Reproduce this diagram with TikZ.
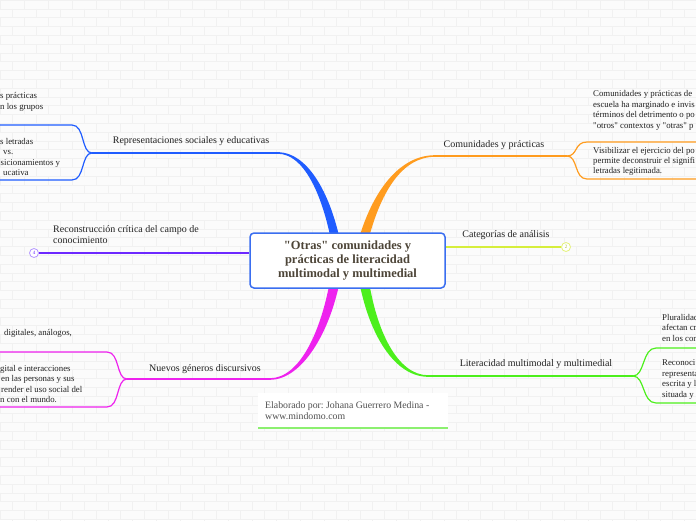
\documentclass[tikz,border=0pt]{standalone}
\usepackage{fontspec}
\setmainfont{Liberation Serif}[Ligatures=TeXOff]
\definecolor{bgc}{HTML}{FBFBFB}
\definecolor{brickc}{HTML}{F1F1F1}
\definecolor{blueb}{HTML}{1F5CFF}
\definecolor{orangeb}{HTML}{FF9C1F}
\definecolor{magb}{HTML}{EE22EE}
\definecolor{greenb}{HTML}{4CEF1C}
\definecolor{purp}{HTML}{6D28FF}
\definecolor{purpl}{HTML}{B496FF}
\definecolor{yel}{HTML}{D6EE3C}
\definecolor{yell}{HTML}{E4F27A}
\definecolor{boxblue}{HTML}{3A6EF0}
\definecolor{txtc}{HTML}{222222}
\definecolor{titlec}{HTML}{4D4538}
\definecolor{footc}{HTML}{505050}
\definecolor{footgreen}{HTML}{8CF070}
\begin{document}
\frenchspacing
\begin{tikzpicture}[x=1pt,y=-1pt]
\tikzset{
  subtxt/.style={anchor=base west, inner sep=0pt, font=\fontsize{8.8}{10.5}\selectfont, text=txtc},
  lbl/.style={anchor=base, inner sep=0pt, font=\fontsize{10}{12}\selectfont, text=txtc},
  hline/.style={line width=1.5pt},
  forkline/.style={line width=1.2pt},
  numcirc/.style={circle, fill=white, minimum size=9pt, inner sep=0pt, line width=0.8pt, font=\fontsize{5}{5}\selectfont},
}
\clip (0,0) rectangle (696,520);
\fill[bgc] (0,0) rectangle (696,520);
% brick background
\foreach \r in {0,...,59} {
  \draw[brickc, line width=0.6pt] (0,\r*8.8) -- (696,\r*8.8);
}
\foreach \r in {0,...,59} {
  \pgfmathsetmacro{\off}{mod(\r,2)*12}
  \foreach \c in {0,...,29} {
    \draw[brickc, line width=0.6pt] (\c*24+\off,\r*8.8) -- ++(0,8.8);
  }
}

% coordinates
\coordinate (bF) at (92,153);
\coordinate (bE) at (280,153);
\coordinate (oF) at (567,156);
\coordinate (oE) at (433,156);
\coordinate (mF) at (127,379);
\coordinate (mE) at (270,379);
\coordinate (gF) at (633,376);
\coordinate (gE) at (426,376);
\coordinate (bT) at (-5,125);
\coordinate (bB) at (-5,180);
\coordinate (oT) at (700,142);
\coordinate (oB) at (700,179);
\coordinate (mT) at (-5,352);
\coordinate (mB) at (-5,407);
\coordinate (gT) at (700,348);
\coordinate (gB) at (700,403);

% tapered main branches
\fill[blueb] (278,152.2) .. controls (306,152.2) and (330,190) .. (341,245) -- (332,245) .. controls (322,192) and (303,153.8) .. (278,153.8) -- cycle;
\fill[orangeb] (435,155.2) .. controls (400,155.2) and (372,190) .. (357,245) -- (367,245) .. controls (380,192) and (402,156.8) .. (435,156.8) -- cycle;
\fill[magb] (270,378.2) .. controls (300,378.2) and (322,330) .. (331,275) -- (341,275) .. controls (331,332) and (302,379.8) .. (270,379.8) -- cycle;
\fill[greenb] (358,275) .. controls (368,335) and (395,376.8) .. (428,376.8) -- (428,375.2) .. controls (398,375.2) and (376,332) .. (368,275) -- cycle;

% horizontal parts
\draw[blueb, hline] (bF) -- (bE);
\draw[orangeb, hline] (oE) -- (oF);
\draw[magb, hline] (mF) -- (mE);
\draw[greenb, hline] (gE) -- (gF);

% forks
\draw[blueb, forkline] (bF) .. controls (81,153) and (85,125) .. (72,125) -- (bT);
\draw[blueb, forkline] (bF) .. controls (81,153) and (85,180) .. (72,180) -- (bB);
\draw[orangeb, forkline] (oF) .. controls (578,156) and (574,142) .. (587,142) -- (oT);
\draw[orangeb, forkline] (oF) .. controls (578,156) and (574,179) .. (587,179) -- (oB);
\draw[magb, forkline] (mF) .. controls (116,379) and (120,352) .. (107,352) -- (mT);
\draw[magb, forkline] (mF) .. controls (116,379) and (120,407) .. (107,407) -- (mB);
\draw[greenb, forkline] (gF) .. controls (645,376) and (642,348) .. (656,348) -- (gT);
\draw[greenb, forkline] (gF) .. controls (645,376) and (642,403) .. (656,403) -- (gB);

% central node
\node[draw=boxblue, line width=1.5pt, rounded corners=4pt, fill=white,
      minimum width=195pt, minimum height=55pt, inner sep=0pt,
      align=center, text=titlec, font=\fontsize{12.5}{14.2}\selectfont\bfseries] (ctr) at (347.5,260.5)
  {"Otras" comunidades y\\prácticas de literacidad\\ multimodal y multimedial};

% numbered leaves
\node[numcirc, draw=purpl, text=purp] (c4) at (34,253) {4};
\node[numcirc, draw=yell, text=yel!80!black] (c2) at (566,247) {2};
\draw[purp, line width=1.3pt] (c4.east) -- (c4.east -| ctr.west);
\draw[yel, line width=1.3pt] (ctr.east |- c2.west) -- (c2.west);

% main labels
\node[lbl] (lrep) at (191,143.7) {Representaciones sociales y educativas};
\node[lbl] (lcom) at (494,147.7) {Comunidades y prácticas};
\node[lbl] (lcat) at (506,237.7) {Categorías de análisis};
\node[lbl] (llit) at (536,366.7) {Literacidad multimodal y multimedial};
\node[lbl] (lnue) at (205,371.7) {Nuevos géneros discursivos};
\node[lbl, anchor=base west] (lrec1) at (53,232.5) {Reconstrucción crítica del campo de};
\node[lbl, anchor=base west] (lrec2) at (53,243.5) {conocimiento};

% blue children (cut at left edge)
\node[subtxt] (b11) at (0,98.5) {s prácticas};
\node[subtxt] (b12) at (0,109.5) {n los grupos};
\node[subtxt] (b21) at (0,144.2) {s letradas};
\node[subtxt] (b22) at (3,154.6) {vs.};
\node[subtxt] (b23) at (0.5,165) {sicionamientos y};
\node[subtxt] (b24) at (3,175.4) {ucativa};

% orange children (cut at right edge)
\node[subtxt] (o11) at (593,96.5) {Comunidades y prácticas de};
\node[subtxt] (o12) at (593,107) {escuela ha marginado e invis};
\node[subtxt] (o13) at (593,117.5) {términos del detrimento o po};
\node[subtxt] (o14) at (593,128) {"otros" contextos y "otras" p};
\node[subtxt] (o21) at (593,153.2) {Visibilizar el ejercicio del po};
\node[subtxt] (o22) at (593,163) {permite deconstruir el signifi};
\node[subtxt] (o23) at (593,173) {letradas legitimada.};

% magenta children
\node[subtxt] (m11) at (4,335.5) {digitales, análogos,};
\node[subtxt] (m21) at (0,371) {gital e interacciones};
\node[subtxt] (m22) at (1,381.5) {en las personas y sus};
\node[subtxt] (m23) at (1,392) {render el uso social del};
\node[subtxt] (m24) at (0,402.5) {n con el mundo.};

% green children
\node[subtxt] (g11) at (662,320) {Pluralidad};
\node[subtxt] (g12) at (662,330.5) {afectan cr};
\node[subtxt] (g13) at (662,341) {en los con};
\node[subtxt] (g21) at (662,365.5) {Reconoci};
\node[subtxt] (g22) at (662,376) {representa};
\node[subtxt] (g23) at (662,386.5) {escrita y l};
\node[subtxt] (g24) at (662,397) {situada y};

% footer
\node[fill=white, minimum width=190pt, minimum height=35pt, inner sep=0pt, anchor=north west] (foot) at (258,393) {};
\draw[footgreen, line width=2pt] (foot.south west) -- (foot.south east);
\node[subtxt, font=\fontsize{9.8}{12}\selectfont, text=footc] (f1) at (265,408) {Elaborado por: Johana Guerrero Medina -};
\node[subtxt, font=\fontsize{9.8}{12}\selectfont, text=footc] (f2) at (265,419.5) {www.mindomo.com};
\end{tikzpicture}
\end{document}
